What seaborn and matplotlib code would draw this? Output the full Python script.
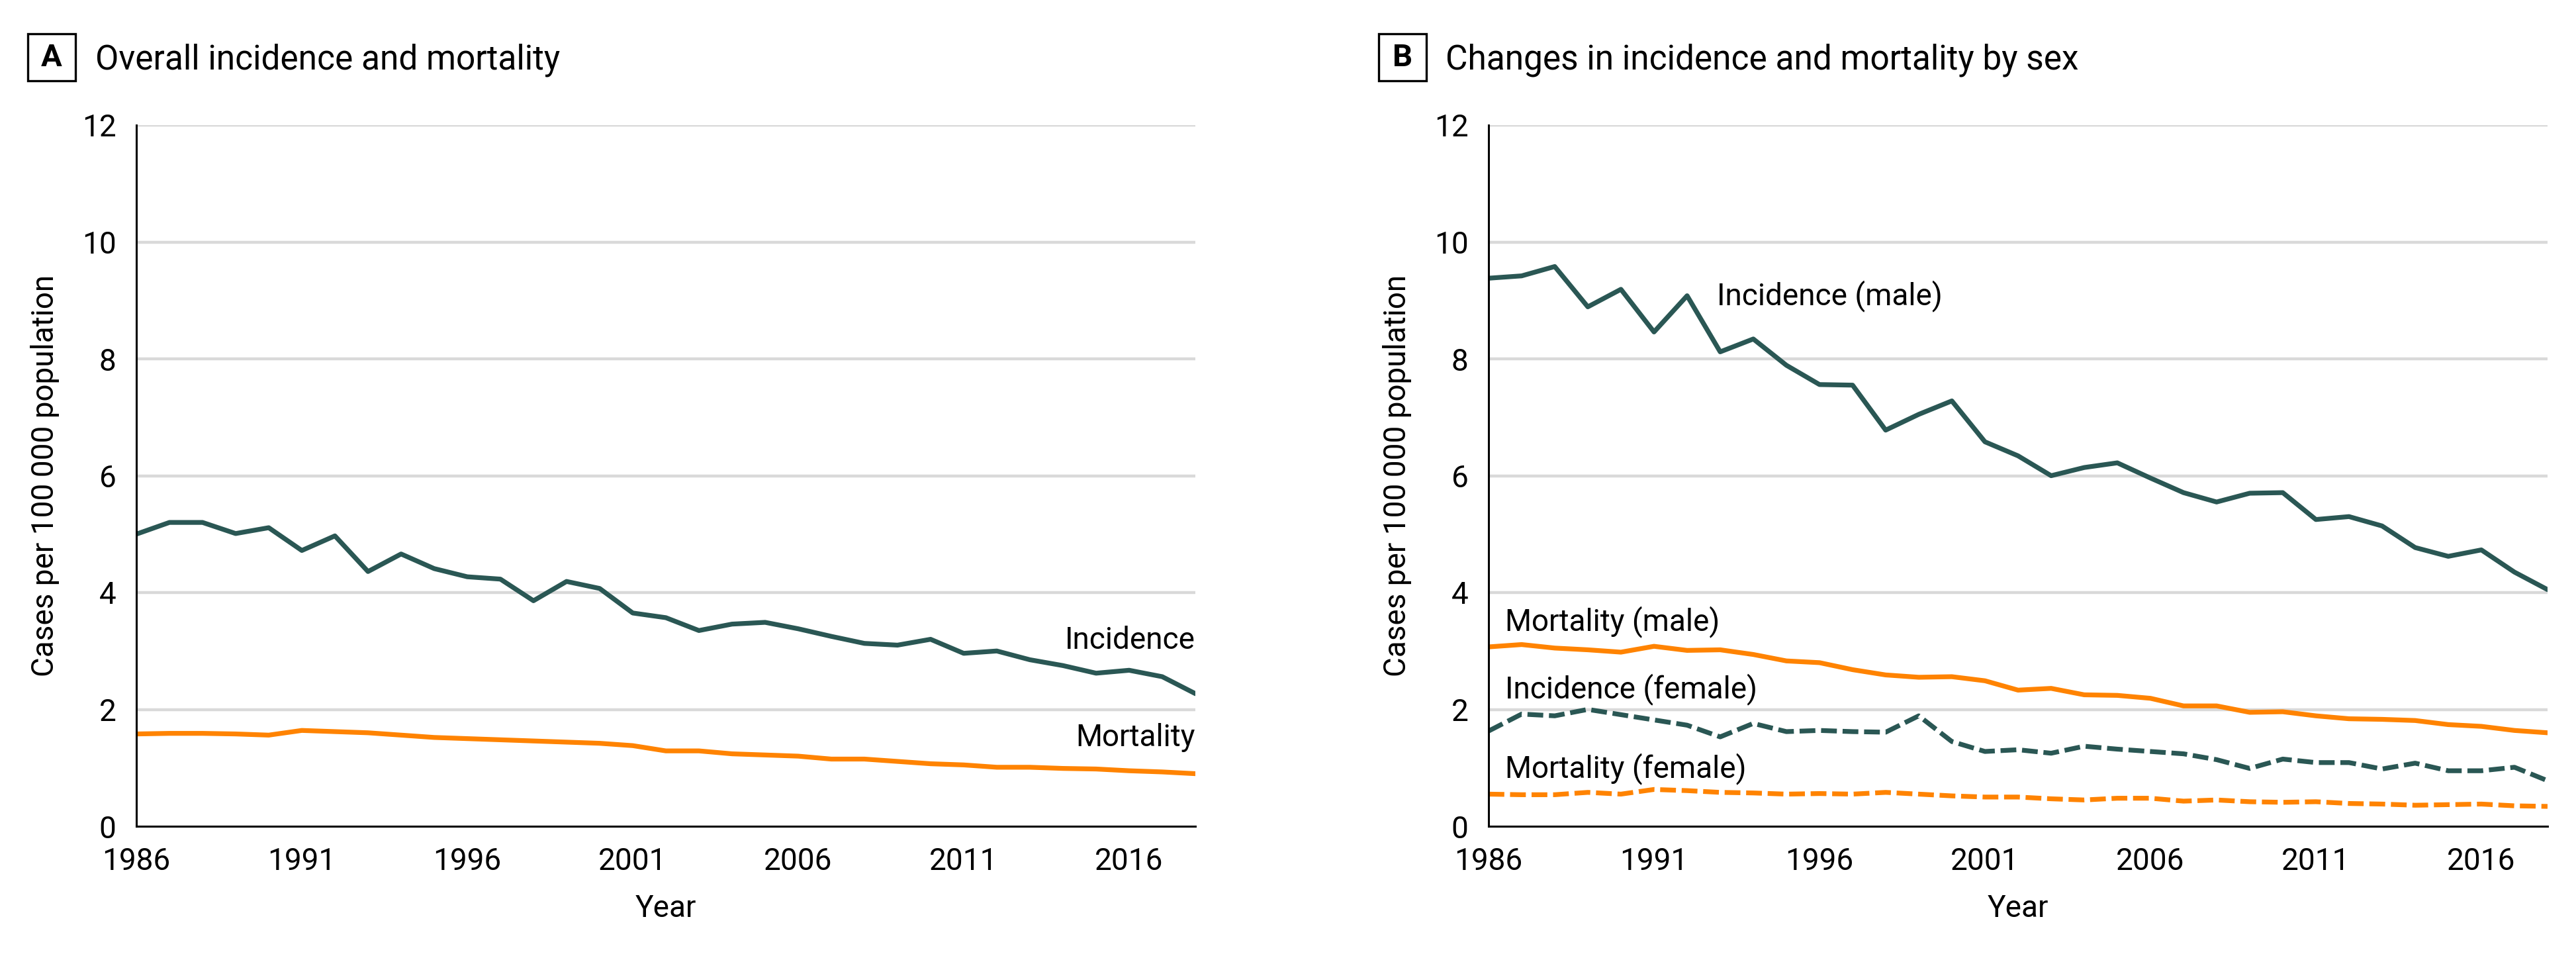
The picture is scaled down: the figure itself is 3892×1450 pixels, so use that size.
import numpy as np
import pandas as pd
import matplotlib.pyplot as plt
import seaborn as sns
from matplotlib.patches import Rectangle

# Years 1986-2018
years = list(range(1986, 2019))

# Panel A: overall incidence and mortality (cases per 100 000)
incidence_all = [5.00, 5.20, 5.20, 5.01, 5.11, 4.72, 4.97, 4.36, 4.66, 4.41,
                 4.27, 4.23, 3.86, 4.19, 4.07, 3.65, 3.57, 3.35, 3.46, 3.49,
                 3.38, 3.25, 3.13, 3.10, 3.20, 2.96, 3.00, 2.85, 2.75, 2.62,
                 2.67, 2.56, 2.27]
mortality_all = [1.58, 1.59, 1.59, 1.58, 1.56, 1.64, 1.62, 1.60, 1.56, 1.52,
                 1.50, 1.48, 1.46, 1.44, 1.42, 1.38, 1.29, 1.29, 1.24, 1.22,
                 1.20, 1.15, 1.15, 1.11, 1.07, 1.05, 1.01, 1.01, 0.99, 0.98,
                 0.95, 0.93, 0.90]

# Panel B: by sex
incidence_male = [9.38, 9.42, 9.58, 8.89, 9.19, 8.46, 9.08, 8.12, 8.34, 7.89,
                  7.56, 7.55, 6.78, 7.05, 7.28, 6.58, 6.34, 6.00, 6.14, 6.22,
                  5.96, 5.71, 5.55, 5.70, 5.71, 5.25, 5.30, 5.14, 4.77, 4.62,
                  4.73, 4.35, 4.05]
mortality_male = [3.07, 3.11, 3.05, 3.02, 2.98, 3.08, 3.01, 3.02, 2.94, 2.83,
                  2.80, 2.68, 2.59, 2.55, 2.56, 2.49, 2.33, 2.36, 2.25, 2.24,
                  2.19, 2.06, 2.06, 1.95, 1.96, 1.89, 1.84, 1.83, 1.81, 1.74,
                  1.71, 1.64, 1.60]
incidence_female = [1.63, 1.92, 1.89, 2.00, 1.91, 1.82, 1.73, 1.53, 1.76, 1.62,
                    1.64, 1.62, 1.61, 1.89, 1.45, 1.28, 1.31, 1.25, 1.37, 1.32,
                    1.28, 1.24, 1.14, 0.99, 1.15, 1.09, 1.09, 0.98, 1.08, 0.95,
                    0.95, 1.01, 0.78]
mortality_female = [0.55, 0.54, 0.54, 0.58, 0.55, 0.63, 0.61, 0.58, 0.57, 0.55,
                    0.56, 0.55, 0.58, 0.55, 0.52, 0.50, 0.50, 0.47, 0.45, 0.48,
                    0.48, 0.43, 0.45, 0.42, 0.41, 0.42, 0.39, 0.38, 0.36, 0.37,
                    0.38, 0.35, 0.34]

year_ticks = [1986, 1991, 1996, 2001, 2006, 2011, 2016]
value_ticks = [0, 2, 4, 6, 8, 10, 12]

TEAL = "#2A5754"
ORANGE = "#FF8300"
GRID = "#D9D9D9"
LW = 2.6
DASH = (0, (3.3, 1.2))

sns.set_style("white")
plt.rcParams["font.family"] = ["Roboto", "DejaVu Sans"]
plt.rcParams["text.color"] = "black"
plt.rcParams["axes.labelcolor"] = "black"
plt.rcParams["xtick.color"] = "black"
plt.rcParams["ytick.color"] = "black"
FS = 16.5

fig = plt.figure(figsize=(19.46, 7.25), dpi=200)
W, H = 3892, 1450
ax_a = fig.add_axes([206 / W, 1 - 1248 / H, 1600 / W, 1059 / H])
ax_b = fig.add_axes([2249 / W, 1 - 1248 / H, 1600 / W, 1059 / H])

df_a = pd.DataFrame({"Year": years, "Incidence": incidence_all, "Mortality": mortality_all})
df_b = pd.DataFrame({"Year": years,
                     "Incidence (male)": incidence_male,
                     "Mortality (male)": mortality_male,
                     "Incidence (female)": incidence_female,
                     "Mortality (female)": mortality_female})


def style_axes(ax):
    ax.set_xlim(1986, 2018)
    ax.set_ylim(0, 12)
    ax.set_xticks(year_ticks)
    ax.set_yticks(value_ticks)
    ax.tick_params(axis="both", direction="out", length=6, width=0.9,
                   color="black", labelcolor="black", labelsize=FS, pad=5)
    for side in ["top", "right"]:
        ax.spines[side].set_visible(False)
    for side in ["left", "bottom"]:
        ax.spines[side].set_color("black")
        ax.spines[side].set_linewidth(1.1)
    for v in value_ticks[1:]:
        ax.axhline(v, color=GRID, lw=1.6, zorder=0)
    ax.set_xlabel("Year", fontsize=FS, color="black")
    ax.set_ylabel("Cases per 100\u2009000 population", fontsize=FS, color="black")
    ax.xaxis.set_label_coords(0.5, -0.117)
    ax.xaxis.label.set_va("center")
    ax.yaxis.set_label_coords(-0.086, 0.5)
    ax.yaxis.label.set_va("center")


# Panel A
sns.lineplot(data=df_a, x="Year", y="Incidence", ax=ax_a, color=TEAL, linewidth=LW)
sns.lineplot(data=df_a, x="Year", y="Mortality", ax=ax_a, color=ORANGE, linewidth=LW)
style_axes(ax_a)
ax_a.text(2018, 3.18, "Incidence", ha="right", va="center", fontsize=FS)
ax_a.text(2018, 1.52, "Mortality", ha="right", va="center", fontsize=FS)

# Panel B
sns.lineplot(data=df_b, x="Year", y="Incidence (male)", ax=ax_b, color=TEAL, linewidth=LW)
sns.lineplot(data=df_b, x="Year", y="Mortality (male)", ax=ax_b, color=ORANGE, linewidth=LW)
sns.lineplot(data=df_b, x="Year", y="Incidence (female)", ax=ax_b, color=TEAL,
             linewidth=LW, linestyle=DASH)
sns.lineplot(data=df_b, x="Year", y="Mortality (female)", ax=ax_b, color=ORANGE,
             linewidth=LW, linestyle=DASH)
style_axes(ax_b)
ax_b.text(1992.9, 9.08, "Incidence (male)", ha="left", va="center", fontsize=FS)
ax_b.text(1986.5, 3.50, "Mortality (male)", ha="left", va="center", fontsize=FS)
ax_b.text(1986.5, 2.35, "Incidence (female)", ha="left", va="center", fontsize=FS)
ax_b.text(1986.5, 0.98, "Mortality (female)", ha="left", va="center", fontsize=FS)

# Panel titles with boxed letters
for letter, bx, tx, title in [("A", 42, 144, "Overall incidence and mortality"),
                              ("B", 2083, 2184, "Changes in incidence and mortality by sex")]:
    fig.patches.append(Rectangle((bx / W, 1 - 122 / H), 72 / W, 71 / H,
                                 transform=fig.transFigure, fill=False,
                                 edgecolor="black", lw=1.2))
    fig.text((bx + 36) / W, 1 - 87 / H, letter, ha="center", va="center",
             fontsize=17, fontweight="bold")
    fig.text(tx / W, 1 - 105 / H, title, ha="left", va="baseline", fontsize=18.5)

fig.savefig("out.png", dpi=200, facecolor="white")
